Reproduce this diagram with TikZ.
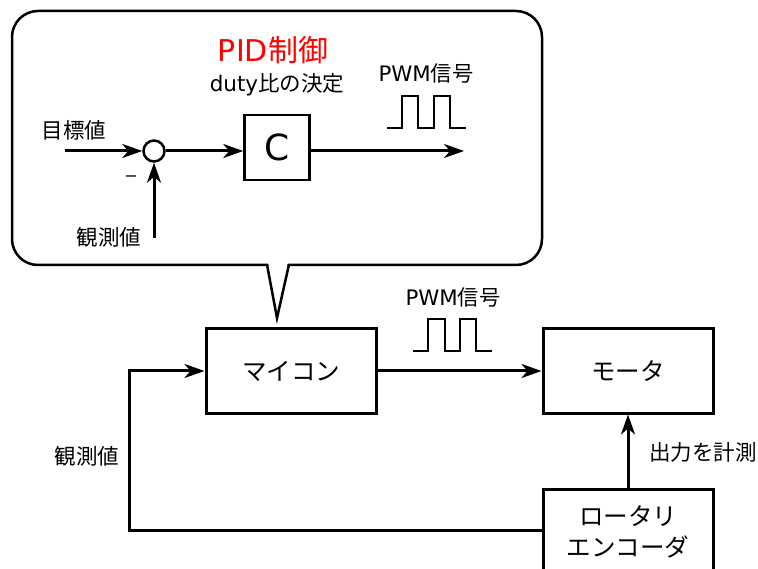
\documentclass[tikz,border=0pt]{standalone}
\usepackage{fontspec}
\setmainfont{DejaVu Sans}
\newfontfamily\jp{Noto Sans CJK JP}
\usetikzlibrary{arrows.meta}
\tikzset{
  box/.style={draw, line width=3pt, inner sep=0pt, font=\jp\fontsize{24.5}{30}\selectfont},
  arr/.style={line width=3pt, -{Stealth[length=20pt,width=14pt,inset=6pt]}},
  lbl/.style={inner sep=0pt, font=\jp\fontsize{21.5}{26}\selectfont},
  wave/.style={line width=1.8pt},
}
\begin{document}
\begin{tikzpicture}[x=1pt,y=-1pt]
\useasboundingbox (0,0) rectangle (758,569);
\clip (0,0) rectangle (758,569);
% callout
\draw[line width=2.5pt, rounded corners=26pt] (12,11) rectangle (542,265);
\fill[white] (268,262) -- (277,318) -- (288,262) -- cycle;
\draw[line width=2.5pt, line join=miter] (267,264.5) -- (277,318) -- (289,264.5);
% PID part
\node[inner sep=0pt, text=red, font=\fontsize{30}{34}\selectfont] (pid) at (273,50) {PID{\jp 制御}};
\node[inner sep=0pt, font=\fontsize{21.5}{26}\selectfont] (duty) at (277,85) {duty{\jp 比の決定}};
\node[draw, line width=2.5pt, minimum width=65pt, minimum height=65pt, inner sep=0pt, font=\fontsize{36}{40}\selectfont] (C) at (277,147.5) {C};
\node[draw, circle, line width=2.5pt, minimum size=21pt, inner sep=0pt] (sum) at (154,151) {};
\coordinate (tin) at (65,151);
\coordinate (obs) at (154,238);
\coordinate (cout) at (464,151);
\draw[arr] (tin) -- (sum);
\draw[arr] (obs) -- (sum);
\draw[arr] (sum) -- (C.west |- sum);
\draw[arr] (C.east |- cout) -- (cout);
\node[lbl] (target) at (74,130) {目標値};
\node[inner sep=0pt, font=\fontsize{16}{16}\selectfont] (minus) at (131,179) {−};
\node[lbl] (obsl) at (109,237) {観測値};
\node[inner sep=0pt, font=\fontsize{21.3}{26}\selectfont] (pwm1) at (426,73) {PWM{\jp 信号}};
\draw[wave] (387,128) -- (402,128) -- (402,96) -- (418,96) -- (418,128) -- (434,128) -- (434,96) -- (450,96) -- (450,128) -- (466,128);
% bottom part
\node[box, minimum width=170pt, minimum height=84pt] (mc) at (291,371) {マイコン};
\node[box, minimum width=170pt, minimum height=84pt] (motor) at (628,371) {モータ};
\node[box, minimum width=170pt, minimum height=120pt, anchor=north] (enc) at (628,488) {};
\node[inner sep=0pt, align=center, font=\jp\fontsize{24.5}{31}\selectfont] (enctext) at (628,532) {ロータリ\\エンコーダ};
\draw[arr] (mc) -- (motor);
\node[inner sep=0pt, font=\fontsize{21.3}{26}\selectfont] (pwm2) at (453,297) {PWM{\jp 信号}};
\draw[wave] (413,351) -- (428,351) -- (428,319) -- (445,319) -- (445,351) -- (460,351) -- (460,319) -- (476,319) -- (476,351) -- (492,351);
\draw[arr] (enc.north) -- (motor.south);
\node[lbl] (meas) at (703,452) {出力を計測};
\coordinate (fbL) at (129,530);
\draw[arr, line join=miter] (enc.west |- fbL) -- (fbL) |- (mc.west);
\node[lbl] (obs2) at (87,456) {観測値};
\end{tikzpicture}
\end{document}
